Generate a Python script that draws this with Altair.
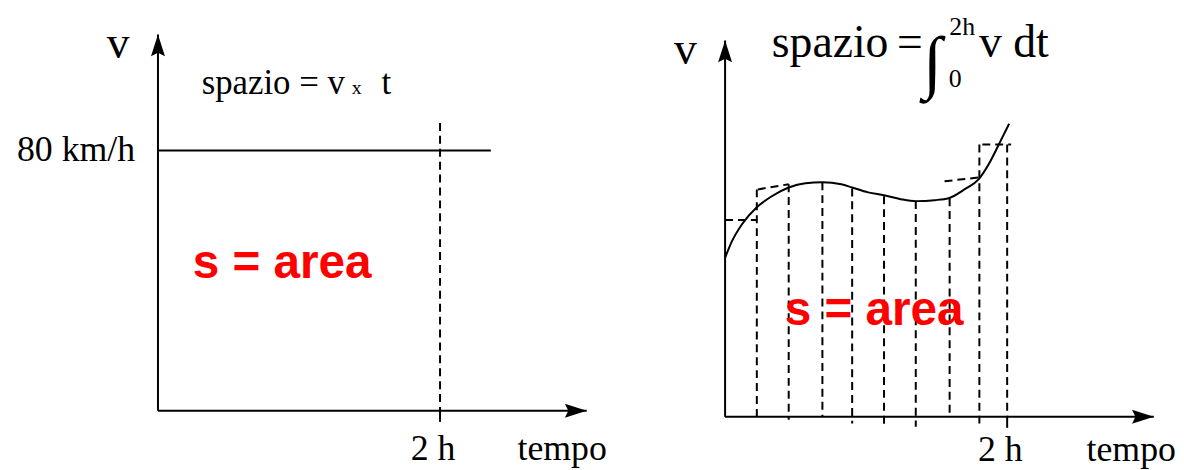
import altair as alt
import pandas as pd

# ---------------- data ----------------
# left panel: constant speed
SPEED = 80            # km/h
T_LABEL = 2           # "2 h"
SPEED_LINE_END = 2.36 # hours, end of the 80 km/h line
DASH_TOP_LEFT = 88.5  # top of the dashed 2 h marker
AXIS_T_TIP = 3.04     # x-axis arrow tip (hours)
AXIS_V_TIP = 115.7    # y-axis arrow tip

# right panel: variable speed curve
CURVE_T = [0.000, 0.049, 0.120, 0.225, 0.331, 0.451, 0.570, 0.690, 0.824, 0.901,
           1.014, 1.127, 1.246, 1.352, 1.486, 1.585, 1.697, 1.803, 1.880, 1.951, 2.014]
CURVE_V = [48.9, 54.0, 59.2, 64.4, 67.8, 70.5, 71.8, 72.1, 71.5, 70.5,
           69.0, 68.1, 66.9, 66.3, 66.6, 67.2, 69.9, 73.3, 78.5, 84.6, 90.1]

STRIP_T = [0.225, 0.451, 0.690, 0.901, 1.127, 1.352, 1.592, 1.803, 2.0]
STRIP_TOP = [69.9, 71.5, 72.1, 70.2, 67.8, 66.3, 67.2, 83.7, 83.7]
STRIP_BOTTOM = [-0.9, -0.9, 0.0, -2.1, -2.7, -3.1, 0.6, -2.1, 0.0]

STEP_T0 = [0.0, 0.232, 1.556, 1.824]
STEP_T1 = [0.225, 0.451, 1.803, 2.028]
STEP_V0 = [60.5, 69.9, 72.4, 83.7]
STEP_V1 = [60.5, 71.5, 73.6, 83.7]

TICK_BELOW = -3.4

# ---------------- layout helpers ----------------
PX_PER_H = 142.0
PX_PER_V = 3.275
H = 454
W_LEFT = 592
W_RIGHT = 576

SERIF = "Liberation Serif"
SANS = "Liberation Sans"

UP_ARROW = "M0,-1L0.64,1L0,0.68L-0.64,1Z"
RIGHT_ARROW = "M1,0L-1,0.64L-0.68,0L-1,-0.64Z"
ARROW_SIZE = 484
ARROW_HALF_PX = 11


def scales(x0_px, y0_px, width):
    # x0_px / y0_px: origin inside the panel (pixels)
    xdom = [-x0_px / PX_PER_H, (width - x0_px) / PX_PER_H]
    ydom = [-(H - y0_px) / PX_PER_V, y0_px / PX_PER_V]
    return (alt.Scale(domain=xdom, nice=False, zero=False),
            alt.Scale(domain=ydom, nice=False, zero=False))


def panel(xs, ys, width, layers_fn):
    X = lambda f: alt.X(f, type="quantitative", scale=xs, axis=None)
    Y = lambda f: alt.Y(f, type="quantitative", scale=ys, axis=None)
    return alt.layer(*layers_fn(X, Y)).properties(width=width, height=H)


def seg_df(t0, t1, v0, v1):
    return pd.DataFrame({"t": t0, "t2": t1, "v": v0, "v2": v1})


def axes_layers(X, Y):
    solid = seg_df([0, 0], [0, AXIS_T_TIP], [0, 0], [AXIS_V_TIP, 0])
    axes = alt.Chart(solid).mark_rule(color="black", strokeWidth=2).encode(
        x=X("t"), x2="t2", y=Y("v"), y2="v2")
    up = alt.Chart(pd.DataFrame({"t": [0], "v": [AXIS_V_TIP - ARROW_HALF_PX / PX_PER_V]})).mark_point(
        shape=UP_ARROW, size=ARROW_SIZE, filled=True, color="black", opacity=1, strokeWidth=0
    ).encode(x=X("t"), y=Y("v"))
    right = alt.Chart(pd.DataFrame({"t": [AXIS_T_TIP - ARROW_HALF_PX / PX_PER_H], "v": [0]})).mark_point(
        shape=RIGHT_ARROW, size=ARROW_SIZE, filled=True, color="black", opacity=1, strokeWidth=0
    ).encode(x=X("t"), y=Y("v"))
    return [axes, up, right]


def text_layer(X, Y, rows, font, size, align="left", weight="normal", color="black"):
    df = pd.DataFrame(rows, columns=["label", "t", "v"])
    return alt.Chart(df).mark_text(
        font=font, fontSize=size, align=align, baseline="alphabetic",
        fontWeight=weight, color=color
    ).encode(x=X("t"), y=Y("v"), text="label:N")


# ---------------- left panel ----------------
def left_layers(X, Y):
    L = axes_layers(X, Y)
    speed = alt.Chart(seg_df([0], [SPEED_LINE_END], [SPEED], [SPEED])).mark_rule(
        color="black", strokeWidth=2).encode(x=X("t"), x2="t2", y=Y("v"), y2="v2")
    dash = alt.Chart(seg_df([T_LABEL], [T_LABEL], [DASH_TOP_LEFT], [0])).mark_rule(
        color="black", strokeWidth=2, strokeDash=[8, 5]).encode(x=X("t"), x2="t2", y=Y("v"), y2="v2")
    tick = alt.Chart(seg_df([T_LABEL], [T_LABEL], [0], [TICK_BELOW])).mark_rule(
        color="black", strokeWidth=2).encode(x=X("t"), x2="t2", y=Y("v"), y2="v2")
    L += [speed, dash, tick]
    L.append(text_layer(X, Y, [["v", -0.282, 108.4]], SERIF, 46, "center"))
    L.append(text_layer(X, Y, [["80 km/h", -0.162, 76.9]], SERIF, 36, "right"))
    L.append(text_layer(X, Y, [["spazio = v", 0.31, 97.4], ["t", 1.585, 97.4]], SERIF, 35))
    L.append(text_layer(X, Y, [["x", 1.41, 97.4]], SERIF, 20, "center"))
    L.append(text_layer(X, Y, [["2 h", 1.95, -15.2]], SERIF, 36, "center"))
    L.append(text_layer(X, Y, [["tempo", 2.549, -15.2]], SERIF, 36))
    L.append(text_layer(X, Y, [["s = area", 0.246, 40.9]], SANS, 48, "left", "bold", "#ff0000"))
    return L


# ---------------- right panel ----------------
def right_layers(X, Y):
    L = axes_layers(X, Y)
    strips = alt.Chart(seg_df(STRIP_T, STRIP_T, STRIP_TOP, STRIP_BOTTOM)).mark_rule(
        color="black", strokeWidth=2, strokeDash=[8, 5]).encode(x=X("t"), x2="t2", y=Y("v"), y2="v2")
    steps = alt.Chart(seg_df(STEP_T0, STEP_T1, STEP_V0, STEP_V1)).mark_rule(
        color="black", strokeWidth=2, strokeDash=[8, 5]).encode(x=X("t"), x2="t2", y=Y("v"), y2="v2")
    tick = alt.Chart(seg_df([T_LABEL], [T_LABEL], [0], [TICK_BELOW])).mark_rule(
        color="black", strokeWidth=2).encode(x=X("t"), x2="t2", y=Y("v"), y2="v2")
    curve = alt.Chart(pd.DataFrame({"t": CURVE_T, "v": CURVE_V})).mark_line(
        color="black", strokeWidth=2, interpolate="monotone").encode(x=X("t"), y=Y("v"), order="t:Q")
    L += [strips, steps, tick, curve]
    L.append(text_layer(X, Y, [["v", -0.282, 108.4]], SERIF, 46, "center"))
    L.append(text_layer(X, Y, [["spazio", 0.331, 110.5], ["v dt", 1.80, 110.5]], SERIF, 46))
    L.append(text_layer(X, Y, [["=", 1.31, 110.5]], SERIF, 46, "center"))
    L.append(text_layer(X, Y, [["∫", 1.47, 102.0]], SERIF, 70, "center"))
    L.append(text_layer(X, Y, [["2h", 1.59, 117.3], ["0", 1.585, 101.5]], SERIF, 26))
    L.append(text_layer(X, Y, [["2 h", 1.951, -13.7]], SERIF, 36, "center"))
    L.append(text_layer(X, Y, [["tempo", 2.563, -13.7]], SERIF, 36))
    L.append(text_layer(X, Y, [["s = area", 0.423, 28.1]], SANS, 48, "left", "bold", "#ff0000"))
    return L


xs_l, ys_l = scales(151, 404, W_LEFT)
xs_r, ys_r = scales(130, 410, W_RIGHT)

left = panel(xs_l, ys_l, W_LEFT, left_layers)
right = panel(xs_r, ys_r, W_RIGHT, right_layers)

chart = alt.hconcat(left, right, spacing=0, bounds="flush").properties(
    padding=0, background="white"
).configure_view(stroke=None, strokeWidth=0)

chart.save("out.html", embed_options={"renderer": "svg", "actions": False})
